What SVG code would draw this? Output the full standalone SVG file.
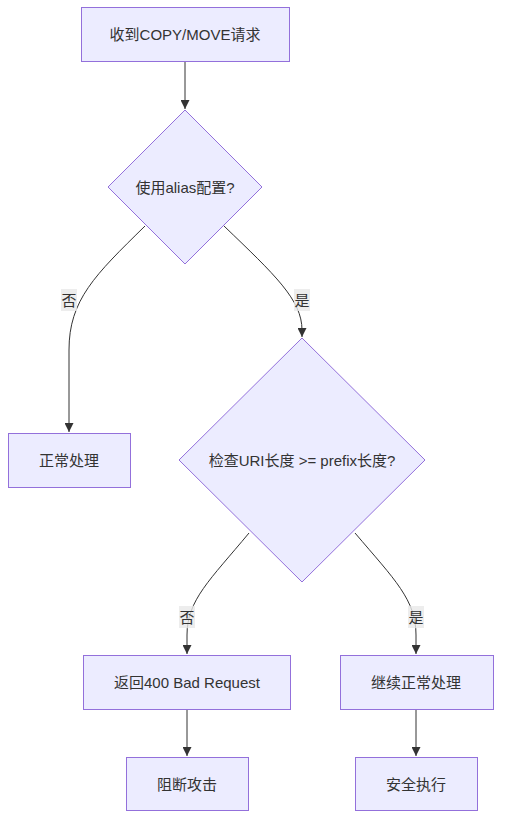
<svg xmlns="http://www.w3.org/2000/svg" width="509" height="832" viewBox="0 0 509 832">
<style>
.node rect,.node polygon{fill:#ECECFF;stroke:#9370DB;stroke-width:1}
text{font-family:"Liberation Sans","Noto Sans CJK SC",sans-serif;font-size:15px;fill:#333;text-anchor:middle;dominant-baseline:central}
.edge{fill:none;stroke:#333;stroke-width:1}
.lbl rect{fill:#e8e8e8;opacity:0.8}
</style>
<defs>
<marker id="arr" viewBox="0 0 10 10" refX="10" refY="5" markerWidth="9" markerHeight="9" markerUnits="userSpaceOnUse" orient="auto">
<path d="M0,0 L10,5 L0,10 z" fill="#333"/>
</marker>
</defs>
<rect width="509" height="832" fill="#fff"/>
<g id="edges">
<path class="edge" d="M185,61 L185,109" marker-end="url(#arr)"/>
<path class="edge" d="M145,226 C95,275 69,300 69,350 L69,432" marker-end="url(#arr)"/>
<path class="edge" d="M224,226 C275,275 302,300 302,330 L302,337" marker-end="url(#arr)"/>
<path class="edge" d="M249,533 C210,580 187,600 187,635 L187,654" marker-end="url(#arr)"/>
<path class="edge" d="M355,533 C395,580 416,600 416,635 L416,654" marker-end="url(#arr)"/>
<path class="edge" d="M187,709 L187,756" marker-end="url(#arr)"/>
<path class="edge" d="M416,709 L416,756" marker-end="url(#arr)"/>
</g>
<g id="edge-labels">
<g class="lbl"><rect x="61" y="289" width="16" height="22"/><text x="69" y="300">否</text></g>
<g class="lbl"><rect x="294" y="289" width="16" height="22"/><text x="302" y="300">是</text></g>
<g class="lbl"><rect x="179" y="606" width="16" height="22"/><text x="187" y="617">否</text></g>
<g class="lbl"><rect x="408" y="606" width="16" height="22"/><text x="416" y="617">是</text></g>
</g>
<g id="n1" class="node"><rect x="81.5" y="7.5" width="208" height="54"/><text x="185" y="34">收到COPY/MOVE请求</text></g>
<g id="n2" class="node"><polygon points="185,110 262,187 185,264 108,187"/><text x="185" y="187">使用alias配置?</text></g>
<g id="n3" class="node"><rect x="8.5" y="433.5" width="122" height="54"/><text x="69" y="460">正常处理</text></g>
<g id="n4" class="node"><polygon points="302,338 425,460 302,582 179,460"/><text x="302" y="460">检查URI长度 &gt;= prefix长度?</text></g>
<g id="n5" class="node"><rect x="83.5" y="655.5" width="207" height="54"/><text x="187" y="682">返回400 Bad Request</text></g>
<g id="n6" class="node"><rect x="340.5" y="655.5" width="153" height="54"/><text x="416" y="682">继续正常处理</text></g>
<g id="n7" class="node"><rect x="126.5" y="757.5" width="122" height="53"/><text x="187" y="784">阻断攻击</text></g>
<g id="n8" class="node"><rect x="355.5" y="757.5" width="122" height="53"/><text x="416" y="784">安全执行</text></g>
</svg>
